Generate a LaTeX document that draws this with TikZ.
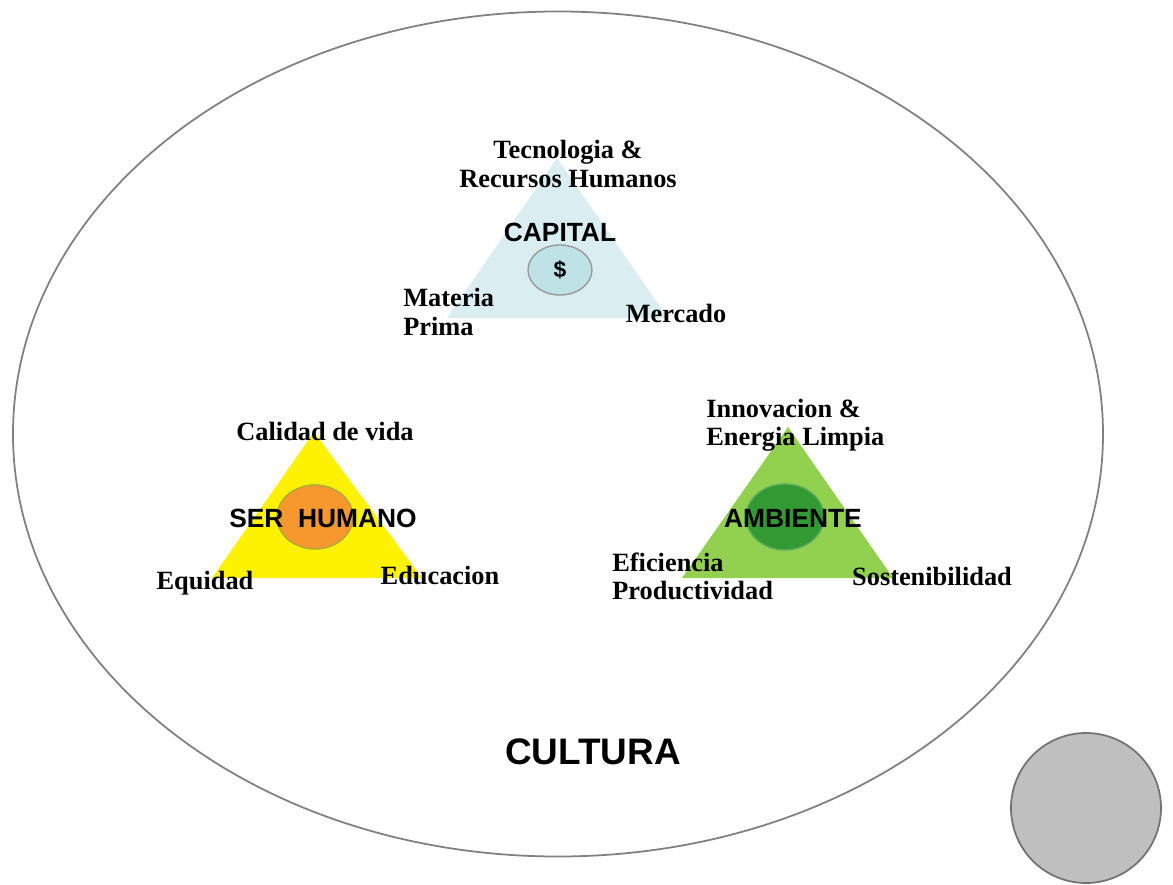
\documentclass[tikz,border=0pt]{standalone}
\usepackage{fontspec}
\setmainfont{Liberation Serif}
\setsansfont{Liberation Sans}
\usetikzlibrary{positioning,shapes.geometric}

\definecolor{capblue}{HTML}{DAEEF1}
\definecolor{capring}{HTML}{BEE2E5}
\definecolor{serorange}{HTML}{F7982F}
\definecolor{ambgreen}{HTML}{92D050}
\definecolor{ambdark}{HTML}{339933}

\begin{document}
\begin{tikzpicture}[x=0.02cm, y=-0.02cm, node distance=14mm,
                    lbl/.style={font=\fontsize{15}{16}\selectfont\bfseries, inner sep=0pt},
                    core/.style={font=\sffamily\fontsize{15}{16}\selectfont\bfseries, inner sep=0pt},
                    hub/.style={ellipse, draw, line width=0.8pt, minimum width=#1}]
  \useasboundingbox (0,0) rectangle (1173,885);
  % cultura
  \node[ellipse, draw=gray, line width=1pt, minimum width=1090*0.02cm, minimum height=845*0.02cm] (cultura) at (558,434) {};
  \node[circle, draw=gray!90!black, fill=gray!50, line width=1pt, minimum size=150*0.02cm] (extra) at (1086,808) {};
  \node[font=\sffamily\fontsize{21}{24}\selectfont\bfseries] (cult) at (593,752) {CULTURA};
  % capital
  \coordinate (capA) at (557,158);
  \coordinate (capB) at (447,318);
  \coordinate (capC) at (668,318);
  \fill[capblue] (capA) -- (capB) -- (capC) -- cycle;
  \node[hub=64*0.02cm, minimum height=50*0.02cm, draw=gray!80, fill=capring] (dollar) at (560,270) {};
  \node[core] (cap) at (560,232) {CAPITAL};
  \node[core, font=\sffamily\fontsize{13}{14}\selectfont\bfseries] (usd) at (560,270) {\$};
  \node[lbl, align=center] (tec) at (568,164) {Tecnologia \&\\Recursos Humanos};
  \node[lbl, align=left, anchor=west] (mat) at (403,312) {Materia\\Prima};
  \node[lbl] (mer) at (676,313) {Mercado};
  % ser humano
  \coordinate (serA) at (314,432);
  \coordinate (serB) at (212,578);
  \coordinate (serC) at (422,578);
  \fill[yellow] (serA) -- (serB) -- (serC) -- cycle;
  \node[hub=76*0.02cm, minimum height=64*0.02cm, draw=olive!70, fill=serorange] (orange) at (315,517) {};
  \node[core] (ser) at (323,518) {SER\ \ HUMANO};
  \node[lbl] (vida) at (325,431) {Calidad de vida};
  \node[lbl] (equ) at (205,583) {Equidad};
  \node[lbl] (edu) at (440,576) {Educacion};
  % ambiente
  \coordinate (ambA) at (788,427);
  \coordinate (ambB) at (682,578);
  \coordinate (ambC) at (893,578);
  \fill[ambgreen] (ambA) -- (ambB) -- (ambC) -- cycle;
  \node[hub=78*0.02cm, minimum height=66*0.02cm, draw=ambdark!80, fill=ambdark] (green) at (785,517) {};
  \node[core] (amb) at (793,518) {AMBIENTE};
  \node[lbl, align=left, anchor=west] (inn) at (706,425) {Innovacion \&\\Energia Limpia};
  \node[lbl, align=left, anchor=west] (efi) at (612,576) {Eficiencia\\Productividad};
  \node[lbl] (sos) at (932,576) {Sostenibilidad};
\end{tikzpicture}
\end{document}
